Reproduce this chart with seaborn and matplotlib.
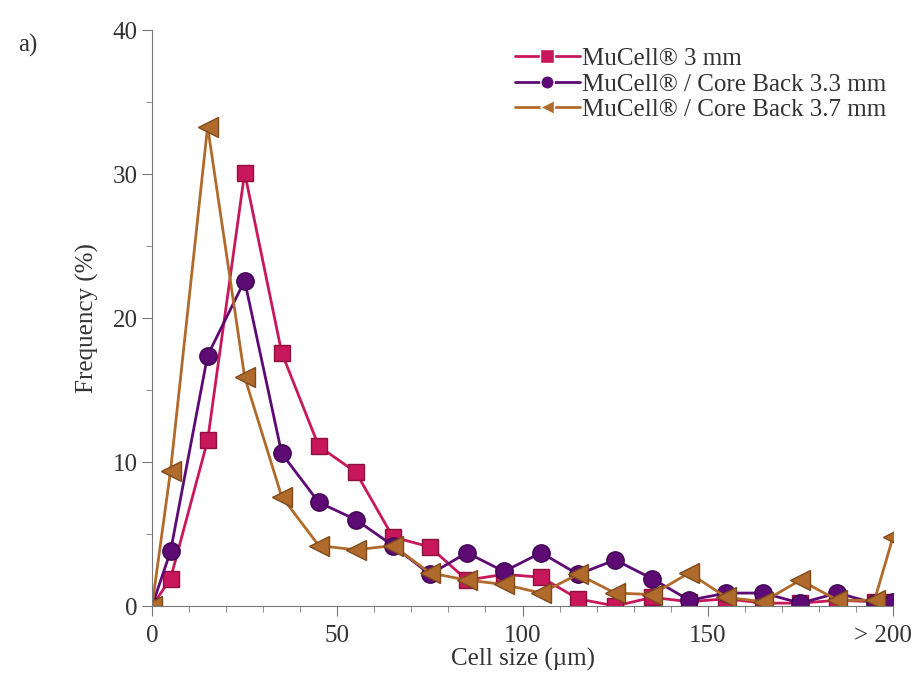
import pandas as pd
import matplotlib.pyplot as plt
import matplotlib.transforms as mtransforms
import seaborn as sns

# cell size bins (last point stands for "> 200")
cell_size = [0, 5, 15, 25, 35, 45, 55, 65, 75, 85, 95, 105, 115, 125, 135, 145,
             155, 165, 175, 185, 195, 200]

mucell_3 = [0, 1.9, 11.5, 30.1, 17.6, 11.1, 9.3, 4.8, 4.1, 1.8, 2.2, 2.0, 0.5,
            0.0, 0.6, 0.3, 0.5, 0.2, 0.2, 0.4, 0.3, 0.3]
coreback_33 = [0, 3.8, 17.4, 22.6, 10.6, 7.2, 6.0, 4.2, 2.2, 3.7, 2.4, 3.7, 2.2,
               3.2, 1.9, 0.4, 0.9, 0.9, 0.2, 0.9, 0.2, 0.3]
coreback_37 = [0, 9.4, 33.3, 15.9, 7.6, 4.2, 3.9, 4.2, 2.3, 1.8, 1.5, 0.9, 2.2,
               0.9, 0.8, 2.3, 0.6, 0.3, 1.8, 0.4, 0.4, 4.8]

names = ["MuCell® 3 mm", "MuCell® / Core Back 3.3 mm", "MuCell® / Core Back 3.7 mm"]
xticks = [0, 50, 100, 150, 200]
xticklabels = ["0", "50", "100", "150", "> 200"]

df = pd.concat([
    pd.DataFrame({"size": cell_size, "freq": vals, "sample": name})
    for name, vals in zip(names, [mucell_3, coreback_33, coreback_37])
])

#%%
sns.set_style("ticks")
plt.rcParams["font.family"] = ["Liberation Serif", "DejaVu Serif"]

colors = {names[0]: "#c8175a", names[1]: "#5e0a74", names[2]: "#b06a2c"}
edges = ["#8e1040", "#3e0650", "#7d4a1c"]
markers = {names[0]: "s", names[1]: "o", names[2]: "<"}
msizes = [12, 12.5, 14]

fig = plt.figure(figsize=(9.18, 6.85), dpi=100)
ax = fig.add_axes([0.1656, 0.1153, 0.8072, 0.8407])

g = sns.lineplot(data=df, x="size", y="freq", hue="sample", style="sample",
                 palette=colors, markers=markers, dashes=False, ax=ax,
                 linewidth=2, markersize=12, markeredgewidth=1)

for line, ec, ms in zip(ax.lines, edges, msizes):
    line.set_markeredgecolor(ec)
    line.set_markersize(ms)

ax.set_xlim(0, 200)
ax.set_ylim(0, 40)
ax.set_xticks(xticks)
ax.set_xticklabels(xticklabels)
ax.set_xticks(range(0, 201, 10), minor=True)
ax.set_yticks(range(0, 41, 10))
ax.set_yticks(range(0, 41, 5), minor=True)

for s in ["left", "bottom"]:
    ax.spines[s].set_color("#777777")
sns.despine(ax=ax)
ax.tick_params(which="both", colors="#777777", labelcolor="#333333",
               labelsize=18, direction="out")
ax.tick_params(which="major", length=7)
ax.tick_params(axis="x", which="major", pad=7)
ax.tick_params(which="minor", length=4)

# nudge the "> 200" label left so it stays inside the figure
last = ax.get_xticklabels()[-1]
last.set_transform(last.get_transform() +
                   mtransforms.ScaledTranslation(-0.1, 0, fig.dpi_scale_trans))

plt.xlabel("Cell size (µm)", fontsize=18, color="#333333", labelpad=0)
plt.ylabel("Frequency (%)", fontsize=18, color="#333333", labelpad=10)

leg = ax.legend(loc="upper right", bbox_to_anchor=(1.015, 1.0), frameon=False,
                fontsize=18, handlelength=2.6, handletextpad=0.1,
                labelspacing=0.12, borderaxespad=0.3, markerscale=0.8)
for t in leg.get_texts():
    t.set_color("#333333")

fig.text(0.02, 0.925, "a)", fontsize=18, color="#333333")

plt.savefig("out.png", dpi=100)
